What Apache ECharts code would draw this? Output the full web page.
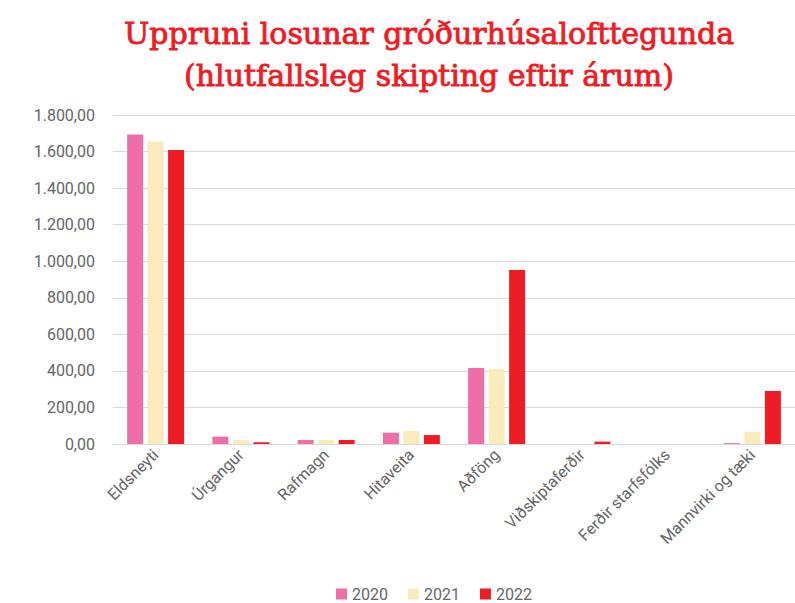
<!DOCTYPE html>
<html>
<head>
<meta charset="utf-8">
<script src="https://cdn.jsdelivr.net/npm/echarts@6/dist/echarts.min.js"></script>
<style>
  html, body { margin: 0; padding: 0; background: #fff; }
  #chart { width: 795px; height: 603px; }
</style>
</head>
<body>
<div id="chart"></div>
<script>
// gögn lesin af myndinni
var categories = ['Eldsneyti', 'Úrgangur', 'Rafmagn', 'Hitaveita', 'Aðföng',
  'Viðskiptaferðir', 'Ferðir starfsfólks', 'Mannvirki og tæki'];
var years = ['2020', '2021', '2022'];
var values2020 = [1693, 40, 22, 62, 416, 0, 0, 5];
var values2021 = [1655, 22, 22, 71, 410, 0, 0, 67];
var values2022 = [1608, 9, 22, 49, 952, 13, 0, 290];
var colors = ['#ee6fa8', '#f9ebbb', '#ee1c25'];

function fmt(v) {
  var parts = v.toFixed(2).split('.');
  parts[0] = parts[0].replace(/\B(?=(\d{3})+(?!\d))/g, '.');
  return parts[0] + ',' + parts[1];
}

var chart = echarts.init(document.getElementById('chart'), null, { renderer: 'svg' });

var allValues = [values2020, values2021, values2022];
var series = [];
for (var i = 0; i < years.length; i++) {
  series.push({
    name: years[i],
    type: 'bar',
    data: allValues[i],
    barWidth: 16,
    barGap: '28%',
    itemStyle: { color: colors[i] }
  });
}

chart.setOption({
  animation: false,
  title: {
    text: 'Uppruni losunar gróðurhúsalofttegunda\n(hlutfallsleg skipting eftir árum)',
    left: 424,
    top: 7,
    textAlign: 'center',
    textStyle: {
      fontFamily: 'DejaVu Serif',
      fontWeight: 'normal',
      fontSize: 30,
      lineHeight: 42,
      color: '#ee1c25',
      textBorderColor: '#ee1c25',
      textBorderWidth: 0.9
    }
  },
  legend: {
    bottom: -4,
    left: 331,
    itemWidth: 11,
    itemHeight: 11,
    itemGap: 20,
    icon: 'rect',
    textStyle: { fontFamily: 'Roboto', fontSize: 16, color: '#666666' },
    data: years
  },
  grid: { left: 113, right: 0, top: 115, bottom: 159 },
  xAxis: {
    type: 'category',
    data: categories,
    axisLine: { lineStyle: { color: '#d9d9d9' } },
    axisTick: { show: false },
    axisLabel: {
      rotate: 45,
      interval: 0,
      margin: 8,
      fontFamily: 'Roboto',
      fontSize: 16,
      color: '#666666'
    }
  },
  yAxis: {
    type: 'value',
    min: 0,
    max: 1800,
    interval: 200,
    axisLine: { show: false },
    axisTick: { show: false },
    splitLine: { lineStyle: { color: '#d9d9d9' } },
    axisLabel: {
      formatter: fmt,
      margin: 18,
      fontFamily: 'Roboto',
      fontSize: 16,
      color: '#666666'
    }
  },
  series: series
});
</script>
</body>
</html>
